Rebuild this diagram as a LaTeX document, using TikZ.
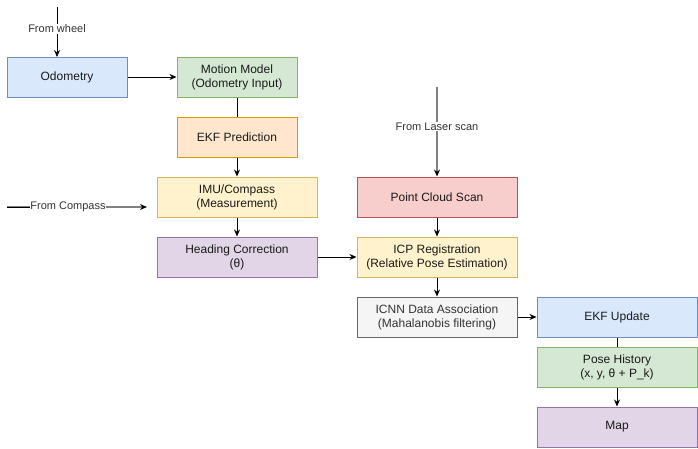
\documentclass[tikz,border=0pt]{standalone}
\usepackage{fontspec}
\setmainfont{Liberation Sans}
\usetikzlibrary{arrows.meta}
\definecolor{blueF}{HTML}{DAE8FC}\definecolor{blueD}{HTML}{6C8EBF}
\definecolor{greenF}{HTML}{D5E8D4}\definecolor{greenD}{HTML}{82B366}
\definecolor{orangeF}{HTML}{FFE6CC}\definecolor{orangeD}{HTML}{D79B00}
\definecolor{yellowF}{HTML}{FFF2CC}\definecolor{yellowD}{HTML}{D6B656}
\definecolor{purpleF}{HTML}{E1D5E7}\definecolor{purpleD}{HTML}{9673A6}
\definecolor{redF}{HTML}{F8CECC}\definecolor{redD}{HTML}{B85450}
\definecolor{grayF}{HTML}{F5F5F5}\definecolor{grayD}{HTML}{666666}
\definecolor{txt}{HTML}{1A1A1A}\definecolor{lbl}{HTML}{333333}
\definecolor{wire}{HTML}{808080}
\begin{document}
\begin{tikzpicture}[x=1pt,y=-1pt,
		box/.style={draw=#1D,fill=#1F,line width=1pt,minimum height=40pt,text=txt,
			align=center,inner sep=0pt,font=\fontsize{12}{14}\selectfont},
		narrow/.style={minimum width=120pt},
		wide/.style={minimum width=160pt},
		arr/.style={-{Stealth[length=7pt,width=6pt,color=black]},line width=0.8pt},
		lab/.style={fill=white,text=lbl,inner sep=1pt,font=\fontsize{11}{13}\selectfont}]
		\useasboundingbox (0,0) rectangle (698,448);
		% left column
		\node[box=blue,narrow](odo) at(67,77){Odometry};
		\node[box=green,narrow](motion) at(237,77){Motion Model\\(Odometry Input)};
		\node[box=orange,narrow](pred) at(237,137){EKF Prediction};
		\node[box=yellow,wide](imu) at(237,197){IMU/Compass\\(Measurement)};
		\node[box=purple,wide](head) at(237,257){Heading Correction\\(θ)};
		% middle column
		\node[box=red,wide](cloud) at(437,197){Point Cloud Scan};
		\node[box=yellow,wide](icp) at(437,257){ICP Registration\\(Relative Pose Estimation)};
		\node[box=gray,wide,text=lbl](icnn) at(437,317){ICNN Data Association\\(Mahalanobis filtering)};
		% right column
		\node[box=blue,wide](upd) at(617,317){EKF Update};
		\node[box=green,wide](hist) at(617,367){Pose History\\(x, y, θ + P\_k)};
		\node[box=purple,wide](map) at(617,427){Map};
		% inputs
		\coordinate (wheel) at(57,7);
		\coordinate (wheelend) at(57,57);
		\coordinate (compass) at(7,207);
		\coordinate (compassend) at(147,207);
		\coordinate (laser) at(437,87);
		\draw[arr](wheel)--(wheelend) node[lab,pos=0.44]{From wheel};
		\draw[arr,wire,line width=1.2pt](compass)--(compassend);
		\draw[line width=0.8pt](compass)--(68,207);
		\node[lab,inner sep=0.5pt] at(68,207){From Compass};
		\draw[arr,wire,line width=1.5pt](laser)--(cloud) node[lab,pos=0.44]{From Laser scan};
		% flow
		\draw[arr](odo)--(motion);
		\draw[line width=0.8pt](motion)--(pred);
		\foreach \a/\b in {pred/imu,imu/head,cloud/icp,head/icp,icp/icnn,icnn/upd,hist/map}
			\draw[arr](\a)--(\b);
		\draw[line width=0.8pt](upd)--(hist);
\end{tikzpicture}
\end{document}
